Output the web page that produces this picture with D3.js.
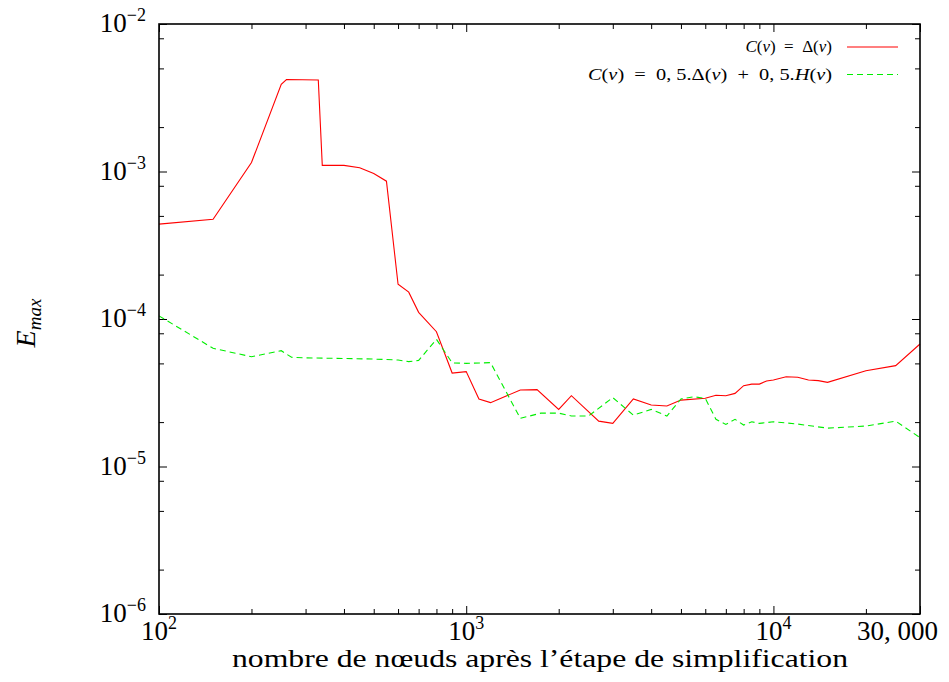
<!DOCTYPE html>
<html>
<head>
<meta charset="utf-8">
<script src="https://cdn.jsdelivr.net/npm/d3@7"></script>
<style>
  body { margin: 0; background: #fff; }
  text { font-family: "Liberation Serif", serif; fill: #000; }
</style>
</head>
<body>
<svg id="chart" width="949" height="682"></svg>
<script>
//data
const redX = [100,150,200,250,260,330,340,400,450,500,550,600,650,700,800,900,1000,1100,1200,1500,1700,2000,2200,2700,3000,3500,4000,4500,5000,6000,6500,7000,7500,8000,8500,9000,9500,10000,11000,12000,13000,14000,15000,20000,25000,30000]
const redY = [4.4e-4,4.75e-4,1.15e-3,3.9e-3,4.2e-3,4.17e-3,1.10e-3,1.10e-3,1.06e-3,9.7e-4,8.6e-4,1.72e-4,1.52e-4,1.11e-4,8.2e-5,4.3e-5,4.4e-5,2.87e-5,2.71e-5,3.3e-5,3.32e-5,2.44e-5,3.02e-5,2.03e-5,1.96e-5,2.87e-5,2.61e-5,2.57e-5,2.82e-5,2.9e-5,3.04e-5,3.02e-5,3.13e-5,3.53e-5,3.62e-5,3.62e-5,3.8e-5,3.86e-5,4.06e-5,4.03e-5,3.86e-5,3.82e-5,3.72e-5,4.46e-5,4.83e-5,6.77e-5]
const greenX = [100,150,200,250,270,300,400,500,600,650,700,800,900,1000,1200,1500,1750,2000,2200,2500,3000,3500,4000,4500,5000,5500,6000,6500,7000,7500,8000,8500,9000,10000,12000,15000,20000,25000,30000]
const greenY = [1.05e-4,6.33e-5,5.55e-5,6.1e-5,5.5e-5,5.45e-5,5.4e-5,5.35e-5,5.27e-5,5.14e-5,5.24e-5,7.28e-5,5.04e-5,5.0e-5,5.06e-5,2.12e-5,2.3e-5,2.3e-5,2.2e-5,2.2e-5,2.93e-5,2.23e-5,2.44e-5,2.2e-5,2.87e-5,2.97e-5,2.9e-5,2.09e-5,1.93e-5,2.09e-5,1.91e-5,2.01e-5,1.96e-5,2.01e-5,1.94e-5,1.82e-5,1.88e-5,2.03e-5,1.57e-5]

const xMajor = [100,1000,10000,30000]
const xLabels = [["10","2"],["10","3"],["10","4"],["30, 000",""]]
const yMajor = [1e-2,1e-3,1e-4,1e-5,1e-6]
const yLabels = ["\u22122","\u22123","\u22124","\u22125","\u22126"]
const legendNames = ["red","green"]

//minor ticks: 2..9 on x, 2,5,8 on y
const xMinor = [], yMinor = []
;[100,1000].forEach(d=>{ for (let k=2;k<=9;k++) xMinor.push(k*d) })
xMinor.push(20000)
;[1e-6,1e-5,1e-4,1e-3].forEach(d=>{ [2,5,8].forEach(k=>yMinor.push(k*d)) })

const svg = d3.select("#chart")
const L = 159, R = 920, T = 24, B = 614

const x = d3.scaleLog().domain([100,30000]).range([L,R])
const y = d3.scaleLog().domain([1e-6,1e-2]).range([B,T])

//ticks on all four sides, pointing inward
const tickAxis = (gen, pos, vals, size)=>{
  svg.append("g").attr("transform", pos)
    .call(gen.tickValues(vals).tickSize(-size).tickFormat(""))
    .call(g=>g.select(".domain").remove())
    .selectAll("line").attr("stroke","#000").attr("stroke-width",1)
}
tickAxis(d3.axisBottom(x), `translate(0,${B})`, xMajor, 8)
tickAxis(d3.axisBottom(x), `translate(0,${B})`, xMinor, 5)
tickAxis(d3.axisTop(x), `translate(0,${T})`, xMajor, 8)
tickAxis(d3.axisTop(x), `translate(0,${T})`, xMinor, 5)
tickAxis(d3.axisLeft(y), `translate(${L},0)`, yMajor, 8)
tickAxis(d3.axisLeft(y), `translate(${L},0)`, yMinor, 5)
tickAxis(d3.axisRight(y), `translate(${R},0)`, yMajor, 8)
tickAxis(d3.axisRight(y), `translate(${R},0)`, yMinor, 5)

//series
const line = d3.line().x(d=>x(d[0])).y(d=>y(d[1]))
svg.append("path").datum(d3.zip(redX, redY))
  .attr("d", line).attr("fill","none").attr("stroke","#ff0000").attr("stroke-width",1.1)
svg.append("path").datum(d3.zip(greenX, greenY))
  .attr("d", line).attr("fill","none").attr("stroke","#00ee00").attr("stroke-width",1.1)
  .attr("stroke-dasharray","6,4")

//frame
svg.append("rect").attr("x",L).attr("y",T).attr("width",R-L).attr("height",B-T)
  .attr("fill","none").attr("stroke","#000").attr("stroke-width",1.6)

//y tick labels
yMajor.forEach((v,i)=>{
  const t = svg.append("text").attr("x",146).attr("y",y(v)+8).attr("text-anchor","end")
  t.append("tspan").attr("font-size",27).text("10")
  t.append("tspan").attr("font-size",18).attr("dy",-11).text(yLabels[i])
})

//x tick labels
xMajor.forEach((v,i)=>{
  const last = i == xMajor.length-1
  const t = svg.append("text").attr("x", last ? 938 : x(v)).attr("y",640)
    .attr("text-anchor", last ? "end" : "middle")
  t.append("tspan").attr("font-size",27).text(xLabels[i][0])
  if (xLabels[i][1]) t.append("tspan").attr("font-size",18).attr("dy",-11).text(xLabels[i][1])
})

//axis titles
svg.append("text").attr("x",540).attr("y",667).attr("text-anchor","middle")
  .attr("font-size",25).attr("textLength",616).attr("lengthAdjust","spacingAndGlyphs")
  .text("nombre de nœuds après l\u2019étape de simplification")

const yl = svg.append("text").attr("transform","translate(35,323) rotate(-90)").attr("text-anchor","middle")
yl.append("tspan").attr("font-size",28).attr("font-style","italic").text("E")
yl.append("tspan").attr("font-size",19).attr("font-style","italic").attr("dy",6).text("max")

//legend
const sp = "\u2002"
const leg1 = svg.append("text").attr("x",832).attr("y",52).attr("text-anchor","end").attr("font-size",17)
leg1.append("tspan").attr("font-style","italic").text("C")
leg1.append("tspan").text("(")
leg1.append("tspan").attr("font-style","italic").text("v")
leg1.append("tspan").text(")" + sp + "=" + sp + "\u0394(")
leg1.append("tspan").attr("font-style","italic").text("v")
leg1.append("tspan").text(")")

const leg2 = svg.append("text").attr("x",832).attr("y",80).attr("text-anchor","end").attr("font-size",17)
  .attr("textLength",244).attr("lengthAdjust","spacingAndGlyphs")
leg2.append("tspan").attr("font-style","italic").text("C")
leg2.append("tspan").text("(")
leg2.append("tspan").attr("font-style","italic").text("v")
leg2.append("tspan").text(")" + sp + "=" + sp + "0, 5.\u0394(")
leg2.append("tspan").attr("font-style","italic").text("v")
leg2.append("tspan").text(")" + sp + "+" + sp + "0, 5.")
leg2.append("tspan").attr("font-style","italic").text("H")
leg2.append("tspan").text("(")
leg2.append("tspan").attr("font-style","italic").text("v")
leg2.append("tspan").text(")")

legendNames.forEach((name,i)=>{
  const s = svg.append("line").attr("x1",847).attr("x2",898).attr("y1",47+i*27.5).attr("y2",47+i*27.5)
    .attr("stroke", name=="red" ? "#ff0000" : "#00ee00").attr("stroke-width",1.1)
  if (name=="green") s.attr("stroke-dasharray","6,4")
})
</script>
</body>
</html>
